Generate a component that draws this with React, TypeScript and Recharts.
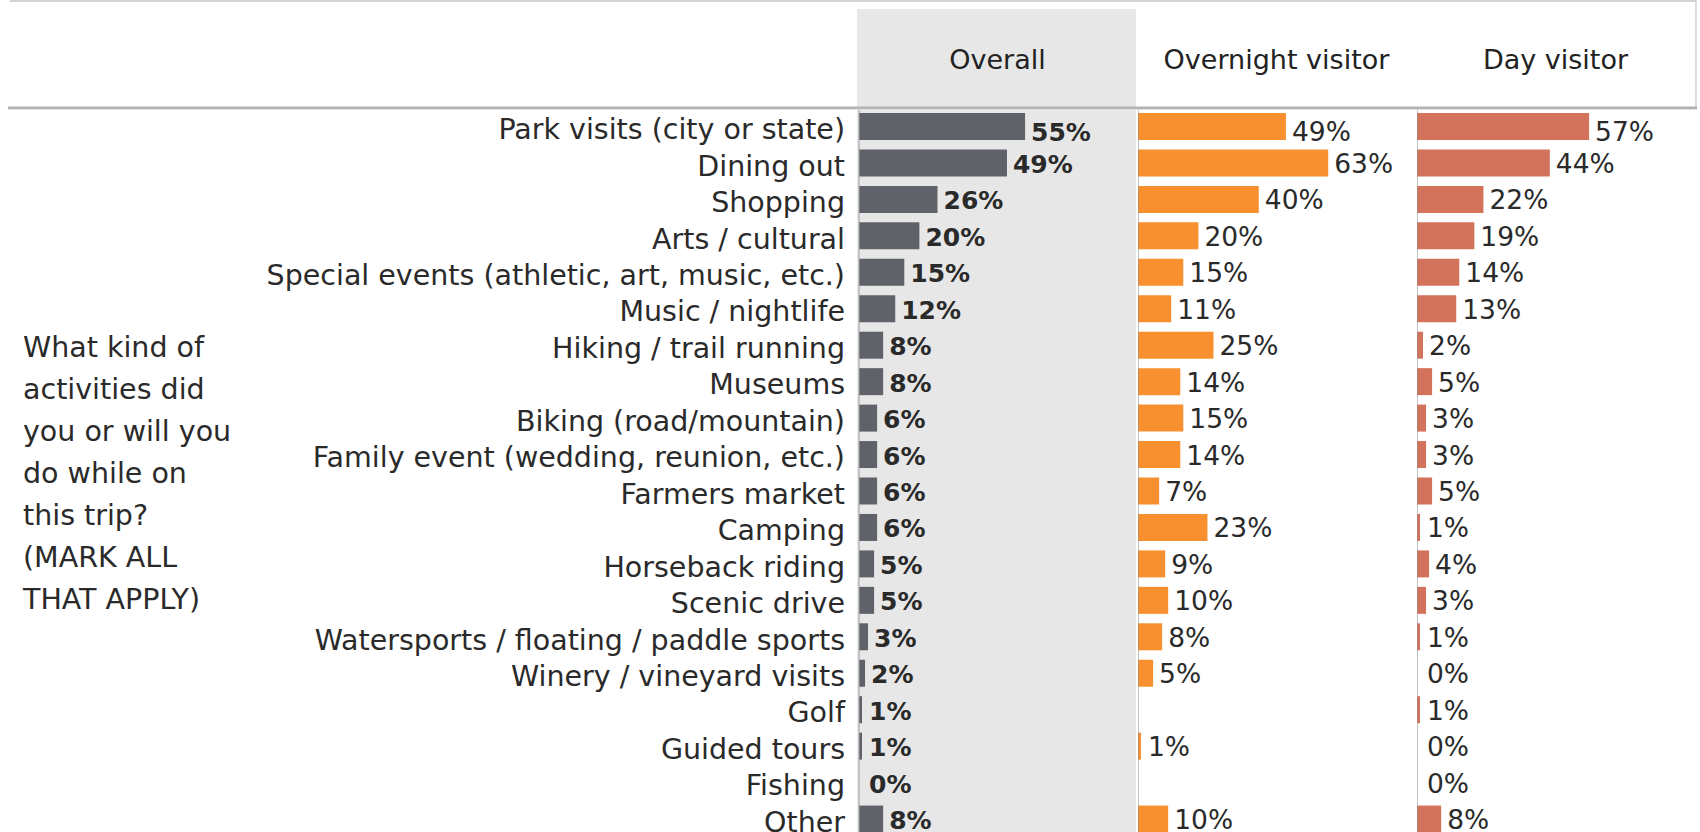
import React from 'react';
import { BarChart, Bar, XAxis, YAxis, LabelList, ReferenceLine } from 'recharts';

const categories = [
  'Park visits (city or state)',
  'Dining out',
  'Shopping',
  'Arts / cultural',
  'Special events (athletic, art, music, etc.)',
  'Music / nightlife',
  'Hiking / trail running',
  'Museums',
  'Biking (road/mountain)',
  'Family event (wedding, reunion, etc.)',
  'Farmers market',
  'Camping',
  'Horseback riding',
  'Scenic drive',
  'Watersports / floating / paddle sports',
  'Winery / vineyard visits',
  'Golf',
  'Guided tours',
  'Fishing',
  'Other',
];

const overallValues = [55, 49, 26, 20, 15, 12, 8, 8, 6, 6, 6, 6, 5, 5, 3, 2, 1, 1, 0, 8];
const overnightValues: (number | null)[] = [49, 63, 40, 20, 15, 11, 25, 14, 15, 14, 7, 23, 9, 10, 8, 5, null, 1, null, 10];
const dayValues = [57, 44, 22, 19, 14, 13, 2, 5, 3, 3, 5, 1, 4, 3, 1, 0, 1, 0, 0, 8];

const panelTitles = ['Overall', 'Overnight visitor', 'Day visitor'];
const questionLines = [
  'What kind of',
  'activities did',
  'you or will you',
  'do while on',
  'this trip?',
  '(MARK ALL',
  'THAT APPLY)',
];

const data = categories.map((name, i) => ({
  name,
  overall: overallValues[i],
  overnight: overnightValues[i],
  day: dayValues[i],
}));

const FONT = '"DejaVu Sans", Verdana, sans-serif';
const TEXT = '#2a2a2a';
const PLOT_TOP = 108;
const PLOT_H = 729;
const PANEL_W = 279;
const AXIS_X = 859;
const DOMAIN_MAX = 92.4;
const BAR_SIZE = 27;

const COLORS = {
  overall: '#5f6269',
  overnight: '#f8902f',
  day: '#d4735c',
};

const CategoryTick = (props: any) => {
  const { x, y, payload } = props;
  return (
    <text
      x={Number(x) - 14}
      y={Number(y) + 13}
      textAnchor="end"
      fontFamily={FONT}
      fontSize={28.5}
      fill={TEXT}
    >
      {payload.value}
    </text>
  );
};

const makeValueLabel = (bold: boolean) => (props: any) => {
  const { x, y, width, height, value, index } = props;
  if (value === null || value === undefined) return null;
  const bx = Number(x);
  const w = Number(width) || 0;
  const cy = Number(y) + Number(height) / 2;
  const lx = bx + Math.max(w, 4) + 6;
  const ly = cy + (index === 0 ? 14.5 : 10);
  return (
    <text
      x={lx}
      y={ly}
      fontFamily={FONT}
      fontSize={bold ? 25 : 26.5}
      fontWeight={bold ? 700 : 400}
      fill={TEXT}
    >
      {`${value}%`}
    </text>
  );
};

const Panel = ({ dataKey, color, left, bold }: { dataKey: string; color: string; left: number; bold: boolean }) => (
  <div style={{ position: 'absolute', left, top: PLOT_TOP, width: PANEL_W, height: PLOT_H }}>
    <BarChart
      width={PANEL_W}
      height={PLOT_H}
      data={data}
      layout="vertical"
      margin={{ top: 0, right: 0, bottom: 0, left: 0 }}
      barSize={BAR_SIZE}
    >
      <XAxis type="number" hide domain={[0, DOMAIN_MAX]} allowDataOverflow />
      <YAxis type="category" dataKey="name" hide />
      <ReferenceLine x={0} stroke="#8a8a8a" strokeWidth={1} />
      <Bar dataKey={dataKey} fill={color} isAnimationActive={false} minPointSize={0.01}>
        <LabelList dataKey={dataKey} content={makeValueLabel(bold)} />
      </Bar>
    </BarChart>
  </div>
);

export default function App() {
  return (
    <div
      style={{
        position: 'absolute',
        left: 0,
        top: 0,
        width: 1700,
        height: 832,
        overflow: 'hidden',
        background: '#ffffff',
        fontFamily: FONT,
      }}
    >
      {/* Overall panel background */}
      <div style={{ position: 'absolute', left: 857, top: 9, width: 279, height: 823, background: '#e7e7e7' }} />

      {/* Overall panel with category axis */}
      <div style={{ position: 'absolute', left: 0, top: PLOT_TOP, width: AXIS_X + PANEL_W, height: PLOT_H }}>
        <BarChart
          width={AXIS_X + PANEL_W}
          height={PLOT_H}
          data={data}
          layout="vertical"
          margin={{ top: 0, right: 0, bottom: 0, left: 0 }}
          barSize={BAR_SIZE}
        >
          <XAxis type="number" hide domain={[0, DOMAIN_MAX]} allowDataOverflow />
          <YAxis
            type="category"
            dataKey="name"
            width={AXIS_X}
            interval={0}
            tickLine={false}
            tickSize={0}
            tickMargin={0}
            axisLine={{ stroke: '#a0a0a0' }}
            tick={<CategoryTick />}
          />
          <Bar dataKey="overall" fill={COLORS.overall} isAnimationActive={false} minPointSize={0.01}>
            <LabelList dataKey="overall" content={makeValueLabel(true)} />
          </Bar>
        </BarChart>
      </div>

      <Panel dataKey="overnight" color={COLORS.overnight} left={AXIS_X + PANEL_W} bold={false} />
      <Panel dataKey="day" color={COLORS.day} left={AXIS_X + PANEL_W * 2} bold={false} />

      {/* Header and question text */}
      <svg
        width={1700}
        height={832}
        style={{ position: 'absolute', left: 0, top: 0, pointerEvents: 'none' }}
      >
        <line x1={10} y1={1} x2={1696} y2={1} stroke="#c4c4c4" strokeWidth={1.5} />
        <line x1={1696} y1={0} x2={1696} y2={108} stroke="#d2d2d2" strokeWidth={1.5} />
        <rect x={8} y={106.5} width={1689} height={2.5} fill="#b3b3b3" />
        <rect x={8} y={109} width={1689} height={1} fill="#e2e2e2" />
        {panelTitles.map((t, i) => (
          <text
            key={t}
            x={AXIS_X + PANEL_W * i + PANEL_W / 2 - 1}
            y={69}
            textAnchor="middle"
            fontFamily={FONT}
            fontSize={27}
            fill="#222"
          >
            {t}
          </text>
        ))}
        {questionLines.map((line, i) => (
          <text key={line} x={23} y={357 + i * 42} fontFamily={FONT} fontSize={28.5} fill={TEXT}>
            {line}
          </text>
        ))}
      </svg>
    </div>
  );
}
